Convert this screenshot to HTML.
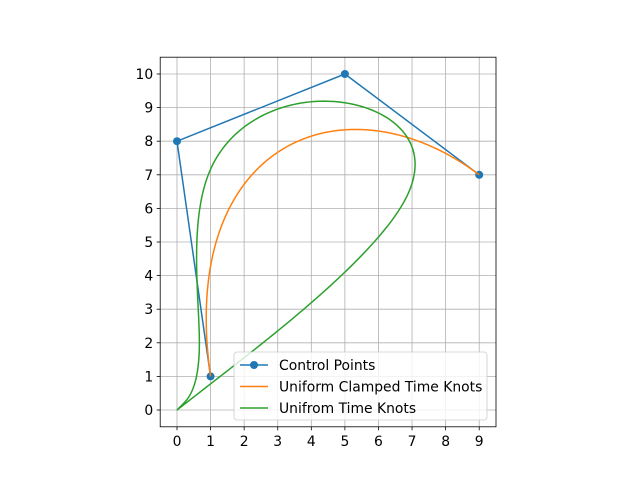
<!DOCTYPE html>
<html><head><meta charset="utf-8"><style>
body{margin:0;background:#fff}
svg{font-family:"DejaVu Sans","Liberation Sans",sans-serif}
</style></head><body>
<svg id="chart" width="640" height="480"></svg>
<script>
const ctrlX=[1,0,5,9];
const ctrlY=[1,8,10,7];
const clampedKnots=[0,0,0,0,1,1,1,1];
const uniformKnots=[0,1,2,3,4,5,6,7];
const xTicks=[0,1,2,3,4,5,6,7,8,9];
const yTicks=[0,1,2,3,4,5,6,7,8,9,10];
const legendLabels=["Control Points","Uniform Clamped Time Knots","Unifrom Time Knots"];
const colors=["#1f77b4","#ff7f0e","#2ca02c"];

const L=160.2,R=496,T=57.2,B=426.8,xmin=-0.5,xmax=9.5,ymin=-0.5,ymax=10.5;
const sx=v=>L+(v-xmin)/(xmax-xmin)*(R-L);
const sy=v=>B-(v-ymin)/(ymax-ymin)*(B-T);
const svg=document.getElementById('chart');
const NS="http://www.w3.org/2000/svg";
function mk(tag,attrs,parent){const e=document.createElementNS(NS,tag);for(const k in attrs)e.setAttribute(k,attrs[k]);(parent||svg).appendChild(e);return e;}

function basis(i,p,t,k){
  if(p===0){return (t>=k[i]&&t<k[i+1])?1:0;}
  let a=0,b=0;
  if(k[i+p]!==k[i]) a=(t-k[i])/(k[i+p]-k[i])*basis(i,p-1,t,k);
  if(k[i+p+1]!==k[i+1]) b=(k[i+p+1]-t)/(k[i+p+1]-k[i+1])*basis(i+1,p-1,t,k);
  return a+b;
}
function curve(k,t0,t1,clampEnd){
  const pts=[];const N=300;
  for(let j=0;j<=N;j++){
    let t=t0+(t1-t0)*j/N;
    if(j===N&&clampEnd) t=t1-1e-9;
    let x=0,y=0;
    for(let i=0;i<ctrlX.length;i++){const b=basis(i,3,t,k);x+=b*ctrlX[i];y+=b*ctrlY[i];}
    pts.push(sx(x).toFixed(2)+","+sy(y).toFixed(2));
  }
  return pts.join(" ");
}

xTicks.forEach(v=>{const g=mk('line',{x1:sx(v),x2:sx(v),y1:T,y2:B,stroke:'#b0b0b0','stroke-width':0.8});
});
yTicks.forEach(v=>{const g=mk('line',{x1:L,x2:R,y1:sy(v),y2:sy(v),stroke:'#b0b0b0','stroke-width':0.8});
});

const cp=mk('polyline',{points:ctrlX.map((x,i)=>sx(x)+","+sy(ctrlY[i])).join(" "),fill:'none',stroke:colors[0],'stroke-width':1.5});

ctrlX.forEach((x,i)=>{const c=mk('circle',{cx:sx(x),cy:sy(ctrlY[i]),r:4,fill:colors[0]});
});
const oc=mk('polyline',{points:curve(clampedKnots,0,1,true),fill:'none',stroke:colors[1],'stroke-width':1.5});

const gc=mk('polyline',{points:curve(uniformKnots,0,7,false),fill:'none',stroke:colors[2],'stroke-width':1.5});


const fr=mk('rect',{x:L,y:T,width:R-L,height:B-T,fill:'none',stroke:'#000','stroke-width':0.8});


xTicks.forEach(v=>{mk('line',{x1:sx(v),x2:sx(v),y1:B,y2:B+3.5,stroke:'#000','stroke-width':0.8});
const t=mk('text',{x:sx(v),y:B+19,'font-size':13.9,'text-anchor':'middle'});t.textContent=v;
});
yTicks.forEach(v=>{mk('line',{x1:L-3.5,x2:L,y1:sy(v),y2:sy(v),stroke:'#000','stroke-width':0.8});
const t=mk('text',{x:L-7,y:sy(v)+5,'font-size':13.9,'text-anchor':'end'});t.textContent=v;
});

const lg=mk('g',{});
mk('rect',{x:234,y:352,width:253,height:68,rx:3,fill:'#fff','fill-opacity':0.8,stroke:'#ccc','stroke-width':0.8},lg);
legendLabels.forEach((lab,i)=>{
  const y=365+i*21.5;
  const e=mk('g',{},lg);
  mk('line',{x1:240,x2:268,y1:y,y2:y,stroke:colors[i],'stroke-width':1.5},e);
  if(i===0) mk('circle',{cx:254,cy:y,r:4,fill:colors[0]},e);
  const t=mk('text',{x:279,y:y+5,'font-size':13.9},e);t.textContent=lab;
});
</script>
</body></html>
